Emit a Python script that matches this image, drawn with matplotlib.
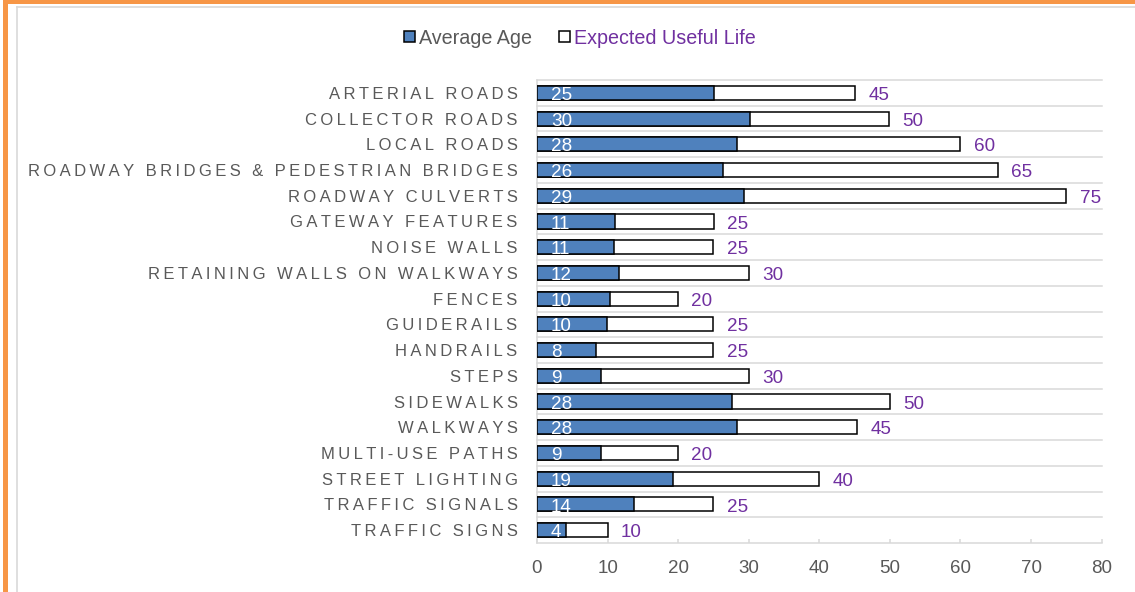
import matplotlib.pyplot as plt
import numpy as np
from matplotlib.patches import Patch, Rectangle
from matplotlib.lines import Line2D

plt.rcParams['font.family'] = ['Liberation Sans', 'DejaVu Sans']

# Data (top to bottom)
categories = [
    "ARTERIAL ROADS", "COLLECTOR ROADS", "LOCAL ROADS",
    "ROADWAY BRIDGES & PEDESTRIAN BRIDGES", "ROADWAY CULVERTS",
    "GATEWAY FEATURES", "NOISE WALLS", "RETAINING WALLS ON WALKWAYS",
    "FENCES", "GUIDERAILS", "HANDRAILS", "STEPS", "SIDEWALKS",
    "WALKWAYS", "MULTI-USE PATHS", "STREET LIGHTING", "TRAFFIC SIGNALS",
    "TRAFFIC SIGNS",
]
avg_age = [25.1, 30.2, 28.3, 26.4, 29.3, 11.1, 10.9, 11.6, 10.3, 9.9,
           8.4, 9.1, 27.7, 28.3, 9.1, 19.2, 13.7, 4.1]
useful_life = [45.1, 49.9, 60.0, 65.3, 75.0, 25.1, 25.0, 30.0, 20.0, 25.0,
               25.0, 30.0, 50.0, 45.4, 20.0, 40.0, 25.0, 10.0]
x_ticks = [0, 10, 20, 30, 40, 50, 60, 70, 80]

BLUE = "#4F81BD"
PURPLE = "#7030A0"
TEXT_GRAY = "#595959"
GRID_GRAY = "#D9D9D9"
ORANGE = "#F79646"


def spaced(s):
    # the source chart uses wide letter spacing on the category labels
    return "\u2009".join(s)


W, H = 1135, 592
fig = plt.figure(figsize=(W / 100, H / 100), dpi=100)
ax = fig.add_axes([537 / W, 1 - 543 / H, (1101.6 - 537) / W, (543 - 80) / H])

y = np.arange(len(categories))
bar_h = 0.55
ax.barh(y, useful_life, height=bar_h, color="white", edgecolor="black", linewidth=1.1, zorder=3)
ax.barh(y, avg_age, height=bar_h, color=BLUE, edgecolor="black", linewidth=1.1, zorder=4)

# Value labels
for i, (a, l) in enumerate(zip(avg_age, useful_life)):
    ax.annotate(f"{a:.0f}", xy=(0, i), xytext=(10, -5.1), textcoords="offset points",
                ha="left", va="baseline", color="white", fontsize=13.6, zorder=5)
    ax.annotate(f"{l:.0f}", xy=(l, i), xytext=(9.5, -5.1), textcoords="offset points",
                ha="left", va="baseline", color=PURPLE, fontsize=13.6, zorder=5)

ax.set_xlim(0, 80)
ax.set_ylim(len(categories) - 0.5, -0.5)
ax.set_xticks(x_ticks)
ax.set_yticks(y)
ax.set_yticklabels([spaced(c) for c in categories], fontsize=12, color=TEXT_GRAY)
ax.tick_params(axis="y", length=0, pad=14)
ax.tick_params(axis="x", direction="in", length=3, width=1.1, color=GRID_GRAY,
               labelsize=13.5, labelcolor=TEXT_GRAY, pad=12)

# Category boundary gridlines
for b in np.arange(-0.5, len(categories) - 0.5, 1):
    ax.axhline(b, color=GRID_GRAY, linewidth=1.1, zorder=1, clip_on=False)

for s in ["top", "right"]:
    ax.spines[s].set_visible(False)
for s in ["left", "bottom"]:
    ax.spines[s].set_color(GRID_GRAY)
    ax.spines[s].set_linewidth(1.1)

# Legend
handles = [Patch(facecolor=BLUE, edgecolor="black", linewidth=1.1),
           Patch(facecolor="white", edgecolor="black", linewidth=1.1)]
leg = fig.legend(handles, ["Average Age", "Expected Useful Life"], loc="center",
                 bbox_to_anchor=(579.7 / W, 1 - 38 / H), ncol=2, frameon=False,
                 fontsize=14.2, handlelength=0.55, handleheight=0.55,
                 handletextpad=0.2, columnspacing=1.4)
leg.get_texts()[0].set_color(TEXT_GRAY)
leg.get_texts()[1].set_color(PURPLE)

# Frame decorations (orange border and gray chart-area outline)
fig.add_artist(Rectangle((3 / W, 0), 5 / W, 1, transform=fig.transFigure,
                         facecolor=ORANGE, edgecolor="none"))
fig.add_artist(Rectangle((3 / W, 1 - 4 / H), 1 - 3 / W, 4 / H, transform=fig.transFigure,
                         facecolor=ORANGE, edgecolor="none"))
fig.add_artist(Line2D([16.5 / W, 16.5 / W], [0, 1 - 6.5 / H], transform=fig.transFigure,
                      color=GRID_GRAY, linewidth=1.2))
fig.add_artist(Line2D([16.5 / W, 1], [1 - 6.5 / H, 1 - 6.5 / H], transform=fig.transFigure,
                      color=GRID_GRAY, linewidth=1.2))

fig.savefig("out.png", dpi=100)
